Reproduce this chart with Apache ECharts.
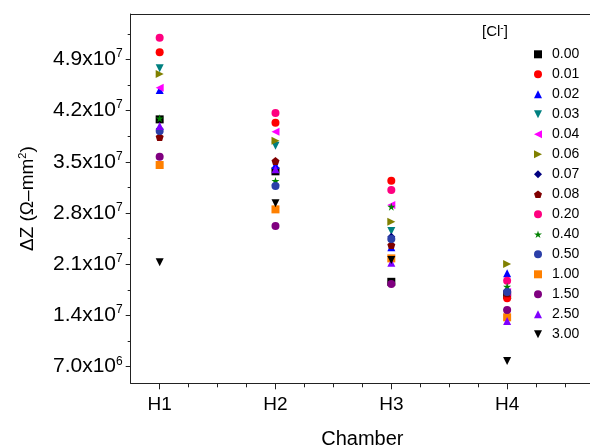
<!DOCTYPE html>
<html><head><meta charset="utf-8">
<script src="https://cdn.jsdelivr.net/npm/echarts@6/dist/echarts.min.js"></script>
<style>html,body{margin:0;padding:0;background:#fff}#c{width:590px;height:448px}</style>
</head><body><div id="c"></div>
<script>
var chambers = ['H1','H2','H3','H4'];
var concLabels = ['0.00','0.01','0.02','0.03','0.04','0.06','0.07','0.08','0.20','0.40','0.50','1.00','1.50','2.50','3.00'];
var c000 = [4.08e7, 3.37e7, 1.86e7, 1.68e7];
var c001 = [4.996e7, 4.034e7, 3.241e7, 1.635e7];
var c002 = [4.48e7, 3.456e7, 2.331e7, 1.976e7];
var c003 = [4.777e7, 3.72e7, 2.554e7, 1.43e7];
var c004 = [4.512e7, 3.911e7, 2.909e7, 1.72e7];
var c006 = [4.699e7, 3.788e7, 2.681e7, 2.103e7];
var c007 = [3.95e7, 3.183e7, 2.476e7, 1.74e7];
var c008 = [3.84e7, 3.51e7, 2.362e7, 1.703e7];
var c020 = [5.195e7, 4.166e7, 3.114e7, 1.875e7];
var c040 = [4.094e7, 3.237e7, 2.886e7, 1.793e7];
var c050 = [3.92e7, 3.17e7, 2.444e7, 1.72e7];
var c100 = [3.456e7, 2.85e7, 2.18e7, 1.375e7];
var c150 = [3.57e7, 2.622e7, 1.83e7, 1.475e7];
var c250 = [3.99e7, 3.397e7, 2.12e7, 1.325e7];
var c300 = [2.126e7, 2.933e7, 2.158e7, 7.78e6];
var yTickValues = [7e6, 1.4e7, 2.1e7, 2.8e7, 3.5e7, 4.2e7, 4.9e7];
var yMinorValues = [1.05e7, 1.75e7, 2.45e7, 3.15e7, 3.85e7, 4.55e7, 5.25e7];
var xTickValues = [1, 2, 3, 4];
var xMinorValues = [1.25,1.5,1.75,2.25,2.5,2.75,3.25,3.5,3.75,4.25,4.5];

var allValues = [c000,c001,c002,c003,c004,c006,c007,c008,c020,c040,c050,c100,c150,c250,c300];
var PENT = 'path://M0,-1L0.951,-0.309L0.588,0.809L-0.588,0.809L-0.951,-0.309Z';
var STAR = 'path://M0,-1L0.2245,-0.309L0.951,-0.309L0.3633,0.118L0.5878,0.809L0,0.382L-0.5878,0.809L-0.3633,0.118L-0.951,-0.309L-0.2245,-0.309Z';
var TUP = 'path://M0,-1L1,1L-1,1Z';
var TDOWN = 'path://M-1,-1L1,-1L0,1Z';
var TLEFT = 'path://M-1,0L1,-1L1,1Z';
var TRIGHT = 'path://M-1,-1L1,0L-1,1Z';
var styles = [
  {c:'#000000', s:'rect', z:7},
  {c:'#FF0000', s:'circle', z:8},
  {c:'#0000FF', s:TUP, z:9},
  {c:'#008080', s:TDOWN, z:9},
  {c:'#FF00FF', s:TLEFT, z:9},
  {c:'#808000', s:TRIGHT, z:9},
  {c:'#000080', s:'diamond', z:10},
  {c:'#800000', s:PENT, z:10},
  {c:'#FF0080', s:'circle', z:10},
  {c:'#008000', s:STAR, z:11},
  {c:'#2B3FA8', s:'circle', z:11},
  {c:'#FF8000', s:'rect', z:11},
  {c:'#800080', s:'circle', z:12},
  {c:'#8000FF', s:TUP, z:12},
  {c:'#000000', s:TDOWN, z:12}
];
var series = concLabels.map(function(lbl, i){
  var st = styles[i];
  return {
    name: lbl, type: 'scatter', symbol: st.s,
    symbolSize: 8, z: st.z,
    itemStyle: {color: st.c, opacity: 1},
    data: allValues[i].map(function(v, k){ return [k+1, v]; })
  };
});
function sciLabel(v){
  var e = Math.floor(Math.log10(v)+1e-9);
  var m = (v/Math.pow(10,e)).toFixed(1);
  return '{b|' + m + 'x10}{s|' + e + '}';
}
var FONT = 'Liberation Sans, Arial, sans-serif';
var option = {
  animation: false,
  textStyle: {fontFamily: FONT},
  grid: {left: 130.7, top: 14, width: 463.3, height: 369.3, show: false, outerBoundsMode: 'none', containLabel: false},
  legend: {
    orient: 'vertical', left: 529, top: 42.3, itemWidth: 8, itemHeight: 8, itemGap: 6,
    textStyle: {fontSize: 14, lineHeight: 14, color: '#000', fontFamily: FONT, padding: [0,0,0,5]},
    data: concLabels
  },
  graphic: [{
    type: 'text', left: 482, top: 23,
    style: {text: '[Cl{s|-}]', font: '15px ' + FONT, fill: '#000',
      rich: {s: {fontSize: 10, verticalAlign: 'top', padding: [0,0,8,0], fill:'#000'}}}
  }],
  xAxis: [{
    type: 'value', min: 0.75, max: 4.75, interval: 0.25,
    name: 'Chamber', nameLocation: 'middle', nameGap: 46,
    nameTextStyle: {fontSize: 20, color: '#000', fontFamily: FONT},
    splitLine: {show: false},
    axisLine: {onZero: false, lineStyle: {color: '#222', width: 1}},
    axisTick: {show: true, length: 6, lineStyle: {color: '#222'}, customValues: xTickValues},
    axisLabel: {fontSize: 19, color: '#000', margin: 12, customValues: xTickValues,
      formatter: function(v){ return chambers[Math.round(v)-1] || ''; }}
  }, {
    type: 'value', min: 0.75, max: 4.75, interval: 0.25, position: 'bottom',
    splitLine: {show: false}, axisLine: {show: false},
    axisTick: {show: true, length: 4, lineStyle: {color: '#222'}, customValues: xMinorValues},
    axisLabel: {show: false}
  }, {
    type: 'value', min: 0.75, max: 4.75, interval: 0.25, position: 'top',
    splitLine: {show: false},
    axisLine: {show: true, onZero: false, lineStyle: {color: '#222', width: 1}},
    axisTick: {show: false}, axisLabel: {show: false}
  }],
  yAxis: [{
    type: 'value', min: 4.73e6, max: 5.52e7,
    name: 'ΔZ (Ω–mm{s|2})', nameLocation: 'middle', nameGap: 92, nameRotate: 90,
    nameTextStyle: {fontSize: 19, color: '#000', fontFamily: FONT,
      rich: {s: {fontSize: 11, verticalAlign: 'top', padding: [0,0,10,0]}}},
    splitLine: {show: false},
    axisLine: {show: true, onZero: false, lineStyle: {color: '#222', width: 1}},
    axisTick: {show: true, length: 5, lineStyle: {color: '#222'}, customValues: yTickValues},
    axisLabel: {color: '#000', margin: 8, customValues: yTickValues, formatter: sciLabel,
      rich: {b: {fontSize: 21, color: '#000', fontFamily: FONT},
             s: {fontSize: 12, color: '#000', fontFamily: FONT, verticalAlign: 'top', padding: [0,0,11,0]}}}
  }, {
    type: 'value', min: 4.73e6, max: 5.52e7, position: 'left',
    splitLine: {show: false}, axisLine: {show: false},
    axisTick: {show: true, length: 3, lineStyle: {color: '#222'}, customValues: yMinorValues},
    axisLabel: {show: false}
  }],
  series: series
};
var chart = echarts.init(document.getElementById('c'), null, {renderer: 'canvas'});
chart.setOption(option);
</script></body></html>
